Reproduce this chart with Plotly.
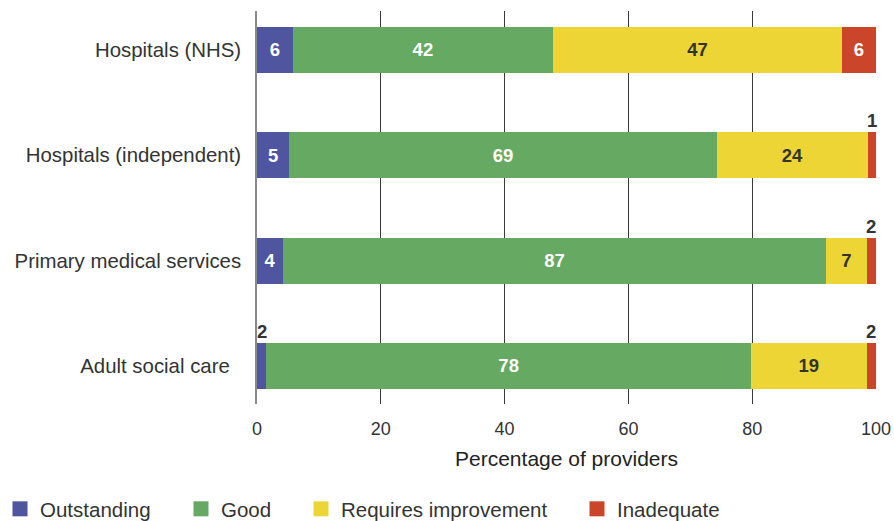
import plotly.graph_objects as go

categories = ["Hospitals (NHS)", "Hospitals (independent)", "Primary medical services", "Adult social care"]
tick_labels = ["Hospitals (NHS)", "Hospitals (independent)", "Primary medical services", "Adult social care\u00a0\u00a0"]

series_names = ["Outstanding", "Good", "Requires improvement", "Inadequate"]
outstanding = [5.8, 5.2, 4.2, 1.5]
good = [42.0, 69.1, 87.7, 78.3]
requires_improvement = [46.7, 24.4, 6.6, 18.7]
inadequate = [5.5, 1.3, 1.5, 1.5]

outstanding_labels = [6, 5, 4, 2]
good_labels = [42, 69, 87, 78]
requires_improvement_labels = [47, 24, 7, 19]
inadequate_labels = [6, 1, 2, 2]

colors = ["#4F559F", "#66A962", "#EDD536", "#CB452B"]
text_colors = ["white", "white", "#333333", "white"]
x_ticks = [0, 20, 40, 60, 80, 100]

values = [outstanding, good, requires_improvement, inadequate]
labels = [outstanding_labels, good_labels, requires_improvement_labels, inadequate_labels]

FONT = "Liberation Sans, Arial, sans-serif"
SMALL = 3.0

W, H = 894, 521

fig = go.Figure()
annotations = []
cum = [0.0] * len(categories)
for name, vals, labs, col, tcol in zip(series_names, values, labels, colors, text_colors):
    texts = [str(l) if v >= SMALL else "" for v, l in zip(vals, labs)]
    fig.add_trace(go.Bar(
        y=categories, x=vals, orientation="h", name=name,
        marker=dict(color=col, line=dict(width=0)),
        width=0.437,
        text=texts, textposition="inside", insidetextanchor="middle",
        textangle=0, constraintext="none",
        textfont=dict(family=FONT, size=18.5, color=tcol, weight="bold"),
        hoverinfo="skip", showlegend=False,
    ))
    for i, (v, l) in enumerate(zip(vals, labs)):
        if v < SMALL:
            annotations.append(dict(
                x=cum[i] + v / 2, y=categories[i], xref="x", yref="y",
                text=str(l), showarrow=False, yanchor="bottom", xanchor="center",
                yshift=22, font=dict(family=FONT, size=18.5, color="#333333", weight="bold"),
            ))
        cum[i] += v

# legend entries
legend_ids = ["legend", "legend2", "legend3", "legend4"]
legend_x_px = [0, 181, 301, 577]
for name, col, lid in zip(series_names, colors, legend_ids):
    fig.add_trace(go.Scatter(
        x=[None], y=[None], mode="markers", name=name,
        marker=dict(symbol="square", size=15, color=col),
        legend=lid, showlegend=True, hoverinfo="skip",
    ))

legend_common = dict(
    orientation="h", xref="container", yref="container",
    yanchor="middle", xanchor="left", y=1 - 509 / H,
    font=dict(family=FONT, size=20.5, color="#333333"),
    bgcolor="rgba(0,0,0,0)", borderwidth=0,
)

layout_legends = {}
for lid, px in zip(legend_ids, legend_x_px):
    layout_legends[lid] = dict(legend_common, x=px / W)

fig.update_layout(
    barmode="stack",
    width=W, height=H,
    margin=dict(l=257, r=18, t=11, b=117, autoexpand=False),
    paper_bgcolor="white", plot_bgcolor="white",
    font=dict(family=FONT, size=20, color="#333333"),
    annotations=annotations,
    xaxis=dict(
        range=[0, 100], tickvals=x_ticks, ticktext=[str(t) for t in x_ticks],
        showgrid=True, gridcolor="#3a3a3a", gridwidth=1,
        zeroline=False, showline=False, ticks="",
        ticklabelstandoff=12,
        tickfont=dict(family=FONT, size=18, color="#333333"),
        title=dict(text="Percentage of providers", standoff=13,
                   font=dict(family=FONT, size=21, color="#222222")),
        automargin=False,
        fixedrange=True,
    ),
    yaxis=dict(
        categoryorder="array", categoryarray=categories,
        tickvals=categories, ticktext=tick_labels,
        range=[3.361, -0.370],
        showgrid=False, zeroline=False,
        showline=True, linecolor="#8a8a8a", linewidth=1.5,
        ticks="", ticklabelstandoff=10,
        tickfont=dict(family=FONT, size=20.4, color="#333333"),
        automargin=False,
        fixedrange=True,
    ),
    **layout_legends,
)

fig.write_html(
    "out.html",
    config={"displayModeBar": False},
    post_script="document.body.style.margin='0';document.body.style.overflow='hidden';",
)
